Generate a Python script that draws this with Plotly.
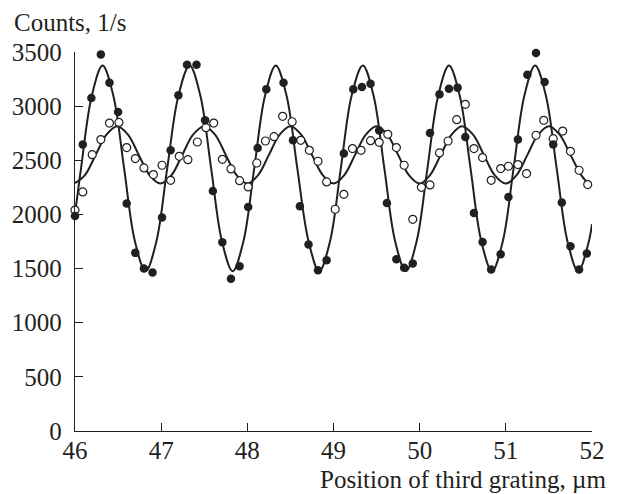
import plotly.graph_objects as go

# Measured points (filled circles)
filled_x = [46.00, 46.09, 46.19, 46.30, 46.40, 46.50, 46.60, 46.70, 46.80, 46.90,
            47.01, 47.11, 47.20, 47.30, 47.41, 47.51, 47.60, 47.71, 47.81, 47.91,
            48.01, 48.12, 48.22, 48.42, 48.53, 48.61, 48.71, 48.82, 48.92,
            49.12, 49.23, 49.33, 49.43, 49.53, 49.62, 49.73, 49.82, 49.92,
            50.12, 50.23, 50.34, 50.44, 50.53, 50.63, 50.73, 50.83, 50.94,
            51.03, 51.14, 51.25, 51.35, 51.45, 51.55, 51.65, 51.75, 51.85, 51.94]
filled_y = [1985, 2645, 3075, 3478, 3217, 2946, 2100, 1645, 1500, 1464,
            1971, 2592, 3100, 3383, 3383, 2869, 2217, 1744, 1405, 1522,
            2069, 2614, 3155, 3217, 2684, 2076, 1722, 1485, 1577,
            2562, 3155, 3176, 3207, 2775, 2106, 1587, 1507, 1547,
            2752, 3109, 3161, 3171, 2715, 2014, 1746, 1491, 1633,
            2162, 2691, 3290, 3490, 3223, 2645, 2110, 1707, 1491, 1640]

# Measured points (open circles)
open_x = [46.00, 46.09, 46.20, 46.30, 46.40, 46.51, 46.60, 46.70, 46.80, 46.91,
          47.01, 47.11, 47.21, 47.31, 47.42, 47.52, 47.61, 47.71, 47.81, 47.91,
          48.01, 48.11, 48.21, 48.31, 48.41, 48.52, 48.62, 48.72, 48.82, 48.92,
          49.02, 49.12, 49.22, 49.32, 49.43, 49.53, 49.63, 49.73, 49.82, 49.92,
          50.02, 50.12, 50.23, 50.33, 50.43, 50.53, 50.63, 50.73, 50.83, 50.94,
          51.03, 51.14, 51.24, 51.35, 51.44, 51.55, 51.66, 51.75, 51.85, 51.95]
open_y = [2040, 2208, 2552, 2691, 2844, 2850, 2617, 2516, 2429, 2368,
          2454, 2315, 2537, 2506, 2669, 2801, 2844, 2509, 2420, 2312,
          2254, 2475, 2678, 2718, 2906, 2856, 2684, 2592, 2491, 2300,
          2048, 2186, 2608, 2592, 2681, 2666, 2740, 2617, 2454, 1955,
          2250, 2272, 2568, 2678, 2875, 3017, 2608, 2525, 2315, 2423,
          2445, 2460, 2377, 2731, 2869, 2700, 2770, 2583, 2408, 2276]

# Fitted curve through filled points
fit_filled_x = [46.00, 46.07, 46.195, 46.32, 46.445, 46.57, 46.695, 46.82, 46.945,
                47.07, 47.20, 47.33, 47.455, 47.58, 47.705, 47.83, 47.955,
                48.08, 48.205, 48.33, 48.455, 48.58, 48.71, 48.835, 48.96,
                49.085, 49.21, 49.34, 49.465, 49.59, 49.715, 49.84, 49.965,
                50.09, 50.215, 50.34, 50.465, 50.59, 50.715, 50.84, 50.965,
                51.09, 51.215, 51.34, 51.465, 51.59, 51.715, 51.84, 51.96, 52.00]
fit_filled_y = [2000, 2425, 3097, 3375, 3097, 2425, 1753, 1475, 1753,
                2425, 3097, 3375, 3097, 2425, 1753, 1475, 1753,
                2425, 3097, 3375, 3097, 2425, 1753, 1475, 1753,
                2425, 3097, 3375, 3097, 2425, 1753, 1475, 1753,
                2425, 3097, 3375, 3097, 2425, 1753, 1475, 1753,
                2425, 3097, 3375, 3097, 2425, 1753, 1475, 1740, 1910]

# Fitted curve through open points
fit_open_x = [46.00, 46.115, 46.24, 46.365, 46.49, 46.615, 46.74, 46.865, 46.99,
              47.12, 47.245, 47.37, 47.50, 47.625, 47.75, 47.875, 48.00,
              48.125, 48.25, 48.375, 48.50, 48.625, 48.75, 48.875, 49.00,
              49.125, 49.25, 49.375, 49.50, 49.625, 49.75, 49.875, 50.00,
              50.12, 50.245, 50.37, 50.49, 50.62, 50.745, 50.87, 51.00,
              51.125, 51.25, 51.375, 51.50, 51.625, 51.75, 51.875, 51.95]
fit_open_y = [2290, 2363, 2550, 2737, 2815, 2737, 2550, 2363, 2285,
              2363, 2550, 2737, 2815, 2737, 2550, 2363, 2285,
              2363, 2550, 2737, 2815, 2737, 2550, 2363, 2285,
              2363, 2550, 2737, 2815, 2737, 2550, 2363, 2285,
              2363, 2550, 2737, 2815, 2737, 2550, 2363, 2285,
              2363, 2550, 2737, 2815, 2737, 2550, 2363, 2290]

x_ticks = [46, 47, 48, 49, 50, 51, 52]
y_ticks = [0, 500, 1000, 1500, 2000, 2500, 3000, 3500]

INK = "#231f20"
FONT = "Liberation Serif"

fig = go.Figure()
fig.add_trace(go.Scatter(x=fit_open_x, y=fit_open_y, mode="lines",
                         line=dict(color=INK, width=2, shape="spline"),
                         hoverinfo="skip", cliponaxis=False))
fig.add_trace(go.Scatter(x=fit_filled_x, y=fit_filled_y, mode="lines",
                         line=dict(color=INK, width=2, shape="spline"),
                         hoverinfo="skip", cliponaxis=False))
fig.add_trace(go.Scatter(x=open_x, y=open_y, mode="markers", cliponaxis=False,
                         marker=dict(symbol="circle", size=8, color="white",
                                     line=dict(color=INK, width=1.2))))
fig.add_trace(go.Scatter(x=filled_x, y=filled_y, mode="markers", cliponaxis=False,
                         marker=dict(symbol="circle", size=8.5, color=INK,
                                     line=dict(width=0))))

fig.update_layout(
    width=619, height=494,
    margin=dict(l=75, r=27, t=52, b=63),
    paper_bgcolor="white", plot_bgcolor="white",
    showlegend=False,
    font=dict(family=FONT, size=25, color=INK),
    xaxis=dict(range=[46, 52], tickvals=x_ticks, ticktext=[str(v) for v in x_ticks],
               automargin=False,
               showgrid=False, zeroline=False, showline=True, linecolor=INK,
               linewidth=1.3, ticks="inside", ticklen=8, tickwidth=1.3,
               tickcolor=INK, ticklabelstandoff=-3,
               tickfont=dict(family=FONT, size=25, color=INK)),
    yaxis=dict(range=[0, 3500], tickvals=y_ticks, ticktext=[str(v) for v in y_ticks],
               automargin=False,
               showgrid=False, zeroline=False, showline=True, linecolor=INK,
               linewidth=1.3, ticks="inside", ticklen=8, tickwidth=1.3,
               tickcolor=INK, ticklabelstandoff=7,
               tickfont=dict(family=FONT, size=25, color=INK)),
    annotations=[
        dict(text="Counts, 1/s", xref="paper", yref="paper", x=0, xshift=-63,
             y=1, yshift=30, xanchor="left", yanchor="middle", showarrow=False,
             font=dict(family=FONT, size=25, color=INK)),
        dict(text="Position of third grating, µm", xref="paper", yref="paper",
             x=1, xshift=16, y=0, yshift=-48, xanchor="right", yanchor="middle",
             showarrow=False, font=dict(family=FONT, size=25, color=INK)),
    ],
)

fig.write_html("out.html", config={"displayModeBar": False},
               post_script="document.body.style.margin='0';")
